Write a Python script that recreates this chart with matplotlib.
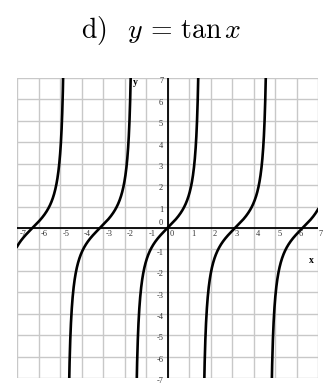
import numpy as np
import matplotlib
matplotlib.use("Agg")
import matplotlib.pyplot as plt

plt.rcParams['mathtext.fontset'] = 'cm'

# plot range and the pieces of tan x between its asymptotes
x_min, x_max = -7, 7
y_min, y_max = -7, 7
asymptotes = [-3 * np.pi / 2, -np.pi / 2, np.pi / 2, 3 * np.pi / 2]
tick_values = list(range(-7, 8))

fig = plt.figure(figsize=(3.23, 3.91), dpi=100)
ax = fig.add_axes([17 / 323, 13 / 391, 301 / 323, 300 / 391])

# grid
for v in tick_values:
    ax.axvline(v, color='#c8c8c8', lw=1.0, zorder=1)
    ax.axhline(v, color='#c8c8c8', lw=1.0, zorder=1)

# axes through origin
ax.axhline(0, color='black', lw=1.3, zorder=2)
ax.axvline(0, color='black', lw=1.3, zorder=2)

# curve, one branch at a time
edges = [x_min] + asymptotes + [x_max]
for a, b in zip(edges[:-1], edges[1:]):
    xs = np.linspace(a + 1e-3, b - 1e-3, 400)
    ax.plot(xs, np.tan(xs), color='black', lw=1.9, zorder=3, clip_on=True)

ax.set_xlim(x_min, x_max)
ax.set_ylim(y_min, y_max)
ax.axis('off')

tick_font = dict(family='Liberation Serif', size=6, color='#333333')
for v in tick_values:
    off = 0.03 if v == x_max else 0.12
    ax.text(v + off, -0.3, str(v), ha='left', va='center', clip_on=False, **tick_font)
    if v != 0:
        ax.text(-0.2, v - 0.15, str(v), ha='right', va='center', clip_on=False, **tick_font)
ax.text(-0.2, 0.25, '0', ha='right', va='center', **tick_font)

ax.text(-1.5, 6.8, 'y', ha='center', va='center', family='Liberation Serif',
        size=7, weight='bold')
ax.text(6.7, -1.5, 'x', ha='center', va='center', family='Liberation Serif',
        size=7, weight='bold')

fig.text(0.5, (391 - 38) / 391, r'$\mathrm{d)}\;\;\; y\, =\, \tan x$', ha='center',
         va='baseline', fontsize=20)

fig.savefig('out.png', dpi=100)
